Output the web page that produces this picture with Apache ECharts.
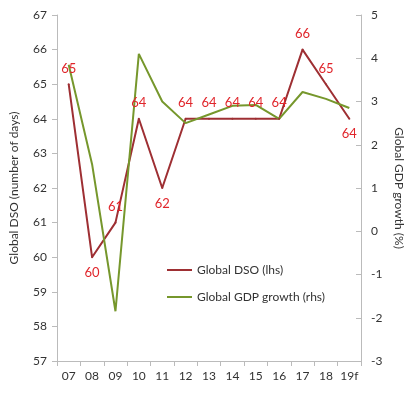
<!DOCTYPE html>
<html><head><meta charset="utf-8">
<script src="https://cdn.jsdelivr.net/npm/echarts@6/dist/echarts.min.js"></script>
<style>html,body{margin:0;padding:0;background:#fff}#c{width:416px;height:394px}</style>
</head><body><div id="c"></div>
<script>
var categories = ['07','08','09','10','11','12','13','14','15','16','17','18','19f'];
var dsoValues = [65,60,61,64,62,64,64,64,64,64,66,65,64];
var gdpValues = [3.85,1.55,-1.85,4.1,3.0,2.5,2.7,2.9,2.92,2.6,3.22,3.06,2.85];
var dsoLabelPos = ['top','bottom','top','top','bottom','top','top','top','top','top','top','top','bottom'];

var FONT = 'Lato';
var RED = '#9e2f33', GREEN = '#76972c';
var chart = echarts.init(document.getElementById('c'));
chart.setOption({
  animation:false,
  textStyle:{fontFamily:FONT},
  grid:{left:57,right:55,top:15,bottom:33},
  legend:{
    orient:'vertical', left:162, top:259, itemGap:15, itemWidth:25, itemHeight:2,
    icon:'rect',
    textStyle:{fontFamily:FONT,fontSize:12,color:'#333'},
    data:[{name:'Global DSO (lhs)',itemStyle:{color:RED}},{name:'Global GDP growth (rhs)',itemStyle:{color:GREEN}}]
  },
  xAxis:{
    type:'category', data:categories, boundaryGap:true,
    axisLine:{onZero:false,lineStyle:{color:'#bbb'}},
    axisTick:{show:true,length:5,lineStyle:{color:'#bbb'}},
    axisLabel:{interval:0,color:'#333',fontSize:12,fontFamily:FONT,margin:9}
  },
  yAxis:[{
    type:'value', min:57, max:67, interval:1, position:'left',
    name:'Global DSO (number of days)', nameLocation:'middle', nameGap:37, nameRotate:90,
    nameTextStyle:{color:'#333',fontSize:12,fontFamily:FONT},
    axisLine:{show:true,lineStyle:{color:'#bbb'}},
    axisTick:{show:true,length:5,lineStyle:{color:'#bbb'}},
    axisLabel:{color:'#333',fontSize:12,fontFamily:FONT,margin:10},
    splitLine:{show:false}
  },{
    type:'value', min:-3, max:5, interval:1, position:'right',
    name:'Global GDP growth (%)', nameLocation:'middle', nameGap:32, nameRotate:-90,
    nameTextStyle:{color:'#333',fontSize:12,fontFamily:FONT},
    axisLine:{show:true,lineStyle:{color:'#bbb'}},
    axisTick:{show:true,length:5,inside:true,lineStyle:{color:'#bbb'}},
    axisLabel:{color:'#333',fontSize:12,fontFamily:FONT,margin:10},
    splitLine:{show:false}
  }],
  series:[{
    name:'Global DSO (lhs)', type:'line', yAxisIndex:0,
    data:dsoValues.map(function(v,i){
      var lab = {position:dsoLabelPos[i]};
      if(i===3){lab.offset=[8,5];}
      return {value:v,label:lab};
    }),
    symbol:'circle', symbolSize:2, showSymbol:true,
    lineStyle:{color:RED,width:2}, itemStyle:{color:RED},
    label:{show:true,color:'#e0252b',fontSize:13,fontFamily:FONT,distance:8},
    labelLayout:{hideOverlap:false}
  },{
    name:'Global GDP growth (rhs)', type:'line', yAxisIndex:1,
    data:gdpValues,
    symbol:'none', lineStyle:{color:GREEN,width:2}, itemStyle:{color:GREEN}
  }]
});
</script></body></html>
